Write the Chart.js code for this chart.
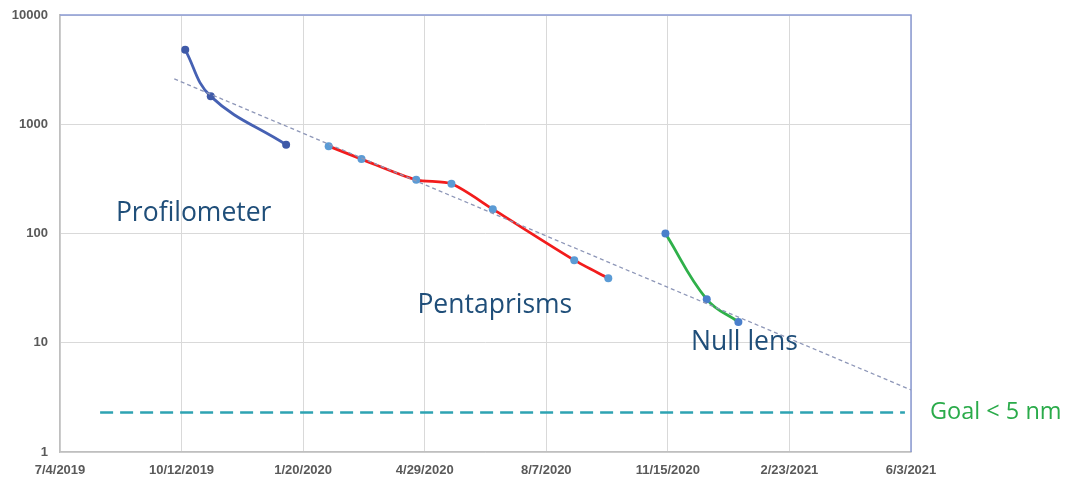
<!DOCTYPE html>
<html>
<head>
<meta charset="utf-8">
<script src="https://cdn.jsdelivr.net/npm/chart.js@4"></script>
<style>
  html, body { margin: 0; padding: 0; background: #fff; }
  #wrap { width: 1068px; height: 480px; }
</style>
</head>
<body>
<div id="wrap"><canvas id="ChartNullLens"></canvas></div>
<script>
// values (x = date, y = surface error, log scale)
const startDate = '2019-07-04';
const profDates = ['2019-10-15', '2019-11-05', '2020-01-06'];
const profValues = [4800, 1800, 650];
const pentaDates = ['2020-02-10', '2020-03-08', '2020-04-22', '2020-05-21', '2020-06-24', '2020-08-30', '2020-09-27'];
const pentaValues = [630, 480, 310, 285, 167, 57, 39];
const nullDates = ['2020-11-13', '2020-12-17', '2021-01-12'];
const nullValues = [100, 25, 15.5];
const trendDates = ['2019-10-06', '2021-06-03'];
const trendValues = [2600, 3.7];
const goalDates = ['2019-08-06', '2021-05-29'];
const goalValues = [2.3, 2.3];
const yTicks = [1, 10, 100, 1000, 10000];
const textLabels = ['Profilometer', 'Pentaprisms', 'Null lens'];
const textDates = ['2019-08-19', '2020-04-23', '2020-12-04'];
const textValues = [154, 22, 10];
const goalText = 'Goal < 5 nm';

const DAY = 86400000;
const t0 = Date.parse(startDate);
const toDay = (d) => (Date.parse(d) - t0) / DAY;
const pts = (dates, vals) => dates.map((d, i) => ({ x: toDay(d), y: vals[i] }));
const fmtDay = (v) => {
  const d = new Date(t0 + v * DAY);
  return (d.getUTCMonth() + 1) + '/' + d.getUTCDate() + '/' + d.getUTCFullYear();
};

const frame = {
  id: 'frame',
  beforeDatasetsDraw(chart) {
    const { ctx, chartArea: a } = chart;
    ctx.save();
    ctx.strokeStyle = '#8a9bd4';
    ctx.lineWidth = 1.5;
    ctx.beginPath();
    ctx.moveTo(a.left, a.top);
    ctx.lineTo(a.right, a.top);
    ctx.lineTo(a.right, a.bottom);
    ctx.stroke();
    ctx.restore();
  },
  afterDatasetsDraw(chart) {
    const { ctx, chartArea: a, scales } = chart;
    ctx.save();
    ctx.font = '26.5px "Open Sans"';
    ctx.fillStyle = '#1f4e79';
    ctx.textAlign = 'left';
    ctx.textBaseline = 'middle';
    textLabels.forEach((t, i) => {
      ctx.fillText(t, scales.x.getPixelForValue(toDay(textDates[i])), scales.y.getPixelForValue(textValues[i]));
    });
    ctx.font = '23.5px "Open Sans"';
    ctx.fillStyle = '#2aab4a';
    ctx.fillText(goalText, a.right + 19, scales.y.getPixelForValue(goalValues[0]));
    ctx.restore();
  }
};

const ctx = document.getElementById('ChartNullLens').getContext('2d');
new Chart(ctx, {
  type: 'line',
  data: {
    datasets: [
      {
        label: 'Trend',
        data: pts(trendDates, trendValues),
        borderColor: '#8e97b8',
        borderWidth: 1.3,
        borderDash: [4, 3],
        pointRadius: 0,
        tension: 0
      },
      {
        label: 'Goal',
        data: pts(goalDates, goalValues),
        borderColor: '#2ea3b2',
        borderWidth: 2.5,
        borderDash: [13, 7],
        pointRadius: 0,
        tension: 0
      },
      {
        label: 'Profilometer',
        data: pts(profDates, profValues),
        borderColor: '#4661b3',
        backgroundColor: '#3f5aa8',
        borderWidth: 2.8,
        pointRadius: 4,
        pointBorderWidth: 0,
        tension: 0.4
      },
      {
        label: 'Pentaprisms',
        data: pts(pentaDates, pentaValues),
        borderColor: '#f21c1c',
        backgroundColor: '#5b9bd5',
        borderWidth: 2.8,
        pointRadius: 4,
        pointBorderWidth: 0,
        tension: 0.25
      },
      {
        label: 'Null lens',
        data: pts(nullDates, nullValues),
        borderColor: '#2fb04a',
        backgroundColor: '#4a7fcb',
        borderWidth: 2.8,
        pointRadius: 4,
        pointBorderWidth: 0,
        tension: 0.4
      }
    ]
  },
  options: {
    animation: false,
    responsive: true,
    maintainAspectRatio: false,
    layout: { padding: { left: 0, right: 157, top: 15, bottom: 0 } },
    plugins: {
      legend: { display: false },
      tooltip: { enabled: false }
    },
    scales: {
      x: {
        type: 'linear',
        min: 0,
        max: 700,
        afterFit: (s) => { s.height = 28; s.paddingLeft = 0; s.paddingRight = 0; },
        ticks: {
          stepSize: 100,
          maxRotation: 0,
          autoSkip: false,
          padding: 11,
          color: '#595959',
          font: { family: 'Liberation Sans', size: 13, weight: 'bold' },
          callback: (v) => fmtDay(v)
        },
        grid: { color: '#d9d9d9', drawTicks: false },
        border: { color: '#bfbfbf', width: 1.5 }
      },
      y: {
        type: 'logarithmic',
        min: 1,
        max: 10000,
        afterFit: (s) => { s.width = 60; s.paddingTop = 0; s.paddingBottom = 0; },
        afterBuildTicks: (s) => { s.ticks = yTicks.map((v) => ({ value: v })); },
        ticks: {
          padding: 12,
          color: '#595959',
          font: { family: 'Liberation Sans', size: 13, weight: 'bold' },
          callback: (v) => String(v)
        },
        grid: { color: '#d9d9d9', drawTicks: false },
        border: { color: '#bfbfbf', width: 1.5 }
      }
    }
  },
  plugins: [frame]
});
</script>
</body>
</html>
